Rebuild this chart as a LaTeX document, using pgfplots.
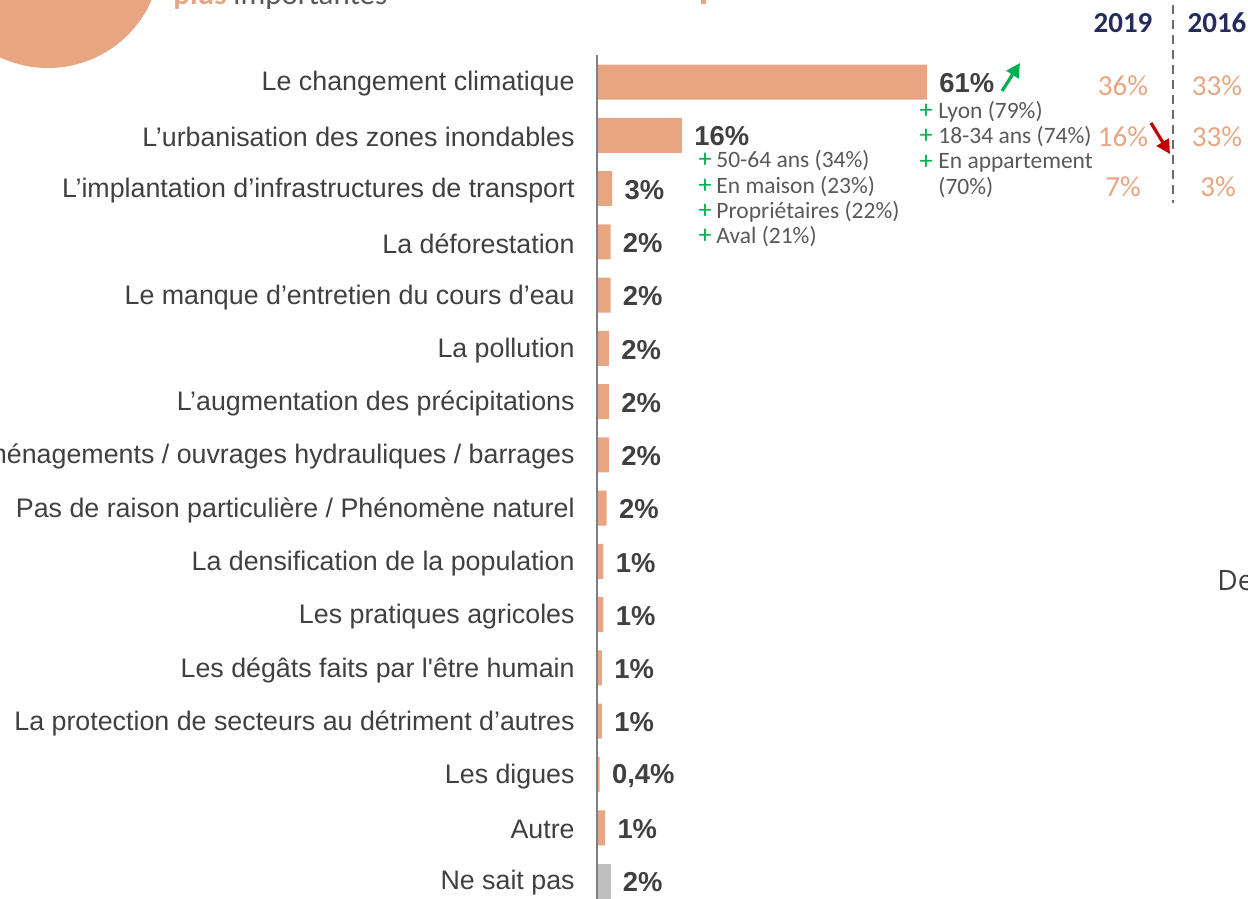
\documentclass[border=0pt]{standalone}
\usepackage{pgfplots}
\pgfplotsset{compat=1.18}
\usepackage{pgfplotstable}
\usepackage{fontspec}
\setmainfont{Liberation Sans}
\newfontfamily\calibri{Carlito}
\newfontfamily\opensans{Open Sans}
\usetikzlibrary{arrows.meta}
\definecolor{peach}{HTML}{E8A582}
\definecolor{txt}{HTML}{404040}
\definecolor{subtxt}{HTML}{595959}
\definecolor{grn}{HTML}{00B050}
\definecolor{rd}{HTML}{C00000}
\definecolor{navy}{HTML}{262B5E}
\definecolor{axgray}{HTML}{7F7F7F}
\definecolor{nspgray}{HTML}{BFBFBF}

\pgfplotstableread{
pos val lab
0 61 61
1 15.7 16
2 2.8 3
3 2.5 2
4 2.5 2
5 2.2 2
6 2.2 2
7 2.2 2
8 1.8 2
9 1.2 1
10 1.2 1
11 0.9 1
12 0.9 1
13 0.5 0,4
14 1.5 1
}\causes
\pgfplotstableread{
pos val lab
15 2.5 2
}\nsp

\begin{document}
\begin{tikzpicture}
\useasboundingbox (0,0) rectangle (624pt,-449.5pt);
\clip (0,0) rectangle (624pt,-449.5pt);
\begin{scope}[x=0.5pt,y=-0.5pt]
  \fill[peach] (48,-45) circle[radius=56.5pt];
  \node[anchor=base west, inner sep=0pt, text=peach, font=\calibri\bfseries\fontsize{15.5}{18}\selectfont] at (173,5) {plus};
  \node[anchor=base west, inner sep=0pt, text=subtxt, font=\calibri\fontsize{15.5}{18}\selectfont] at (233,5) {importantes};
  \fill[peach] (701,0) rectangle (706,4);
\end{scope}
\begin{axis}[
  at={(298.5pt,-27.7pt)}, anchor=north west,
  scale only axis, width=165pt, height=421.6pt,
  xmin=0, xmax=61, ymin=-0.5, ymax=15.33,
  y dir=reverse, axis lines=none, clip=false,
  xtick=\empty, ytick=\empty,
]
\addplot[xbar, bar width=17.5pt, bar shift=0pt, fill=peach, draw=none,
  point meta=explicit symbolic,
  nodes near coords={\pgfplotspointmeta\%},
  nodes near coords style={anchor=west, inner sep=0pt, xshift=6pt, yshift=-0.6pt, font=\bfseries\fontsize{13.7}{16}\selectfont, text=txt}]
  table[x=val, y=pos, meta=lab] {\causes};
\addplot[xbar, bar width=17.5pt, bar shift=0pt, fill=nspgray, draw=none,
  point meta=explicit symbolic,
  nodes near coords={\pgfplotspointmeta\%},
  nodes near coords style={anchor=west, inner sep=0pt, xshift=6pt, yshift=-0.6pt, font=\bfseries\fontsize{13.7}{16}\selectfont, text=txt}]
  table[x=val, y=pos, meta=lab] {\nsp};
\draw[axgray, line width=0.75pt] (axis cs:0,-0.5) -- (axis cs:0,15.33);
\tikzset{cat/.style={anchor=east, inner sep=0pt, xshift=-11pt, yshift=-1pt, text=txt, font=\fontsize{13.4}{16}\selectfont}}
\node[cat] at (axis cs:0,0) {Le changement climatique};
\node[cat] at (axis cs:0,1) {L’urbanisation des zones inondables};
\node[cat] at (axis cs:0,2) {L’implantation d’infrastructures de transport};
\node[cat] at (axis cs:0,3) {La déforestation};
\node[cat] at (axis cs:0,4) {Le manque d’entretien du cours d’eau};
\node[cat] at (axis cs:0,5) {La pollution};
\node[cat] at (axis cs:0,6) {L’augmentation des précipitations};
\node[cat] at (axis cs:0,7) {Les aménagements / ouvrages hydrauliques / barrages};
\node[cat] at (axis cs:0,8) {Pas de raison particulière / Phénomène naturel};
\node[cat] at (axis cs:0,9) {La densification de la population};
\node[cat] at (axis cs:0,10) {Les pratiques agricoles};
\node[cat] at (axis cs:0,11) {Les dégâts faits par l\textquotesingle être humain};
\node[cat] at (axis cs:0,12) {La protection de secteurs au détriment d’autres};
\node[cat] at (axis cs:0,13) {Les digues};
\node[cat] at (axis cs:0,14) {Autre};
\node[cat] at (axis cs:0,15) {Ne sait pas};
\end{axis}
\begin{scope}[x=0.5pt,y=-0.5pt]
  \tikzset{sub/.style={anchor=west, inner sep=0pt, text=subtxt, font=\calibri\fontsize{11.75}{14}\selectfont},
           pl/.style={inner sep=0pt, text=grn, font=\calibri\fontsize{13}{14}\selectfont},
           yr/.style={inner sep=0pt, text=peach, font=\calibri\fontsize{14.5}{17}\selectfont},
           hd/.style={inner sep=0pt, text=navy, font=\calibri\bfseries\fontsize{14.5}{17}\selectfont}}
  % 61% group
  \node[pl] at (926,111) {+}; \node[sub] at (938,112) {Lyon (79\%)};
  \node[pl] at (926,136) {+}; \node[sub] at (938,137) {18-34 ans (74\%)};
  \node[pl] at (926,162) {+}; \node[sub] at (938,163) {En appartement};
  \node[sub] at (938,188) {(70\%)};
  % 16% group
  \node[pl] at (705,160) {+}; \node[sub] at (716,161) {50-64 ans (34\%)};
  \node[pl] at (705,186) {+}; \node[sub] at (716,187) {En maison (23\%)};
  \node[pl] at (705,211) {+}; \node[sub] at (716,212) {Propriétaires (22\%)};
  \node[pl] at (705,236) {+}; \node[sub] at (716,237) {Aval (21\%)};
  % arrows
  \draw[grn, line width=1.6pt, -{Triangle[length=7pt,width=7pt]}] (1002,91) -- (1020,63);
  \draw[rd, line width=1.6pt, -{Triangle[length=7pt,width=7pt]}] (1151,123) -- (1170,154);
  % years
  \draw[axgray!85!black, line width=1.2pt, dash pattern=on 4.5pt off 3pt] (1173,5) -- (1173,203);
  \node[hd] at (1123,23) {2019};
  \node[hd] at (1217,23) {2016};
  \node[yr] at (1123,86) {36\%};
  \node[yr] at (1123,137) {16\%};
  \node[yr] at (1123,187) {7\%};
  \node[yr] at (1217,86) {33\%};
  \node[yr] at (1217,137) {33\%};
  \node[yr] at (1218,187) {3\%};
  \node[anchor=west, inner sep=0pt, text=txt, font=\opensans\fontsize{14}{17}\selectfont] at (1217,581) {De};
\end{scope}
\end{tikzpicture}
\end{document}
